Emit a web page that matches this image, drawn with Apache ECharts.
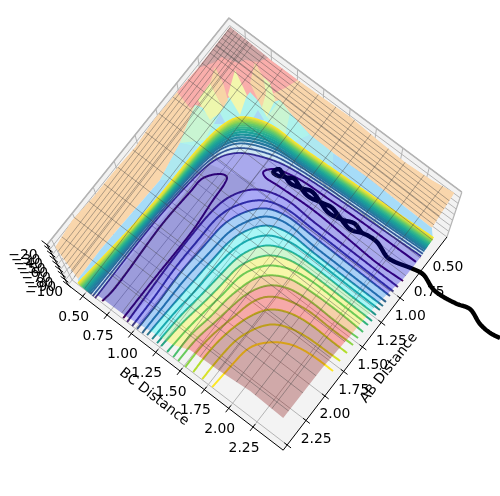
<!DOCTYPE html>
<html><head><meta charset="utf-8">
<style>html,body{margin:0;padding:0;background:#fff}#c{width:500px;height:496px}</style>
<script src="https://cdn.jsdelivr.net/npm/echarts@6/dist/echarts.min.js"></script>
</head><body><div id="c"></div>
<script>
// ---- axis ticks and limits ----
const abTicks = [0.5,0.75,1,1.25,1.5,1.75,2,2.25];
const bcTicks = [0.5,0.75,1,1.25,1.5,1.75,2,2.25];
const zTicks = [-100,-90,-80,-70,-60,-50,-40,-30,-20];
const abRange = [0.128,2.303];
const bcRange = [0.349,2.56];
const zRange = [-100,-20];
// ---- contour lines [AB,BC] ----
const fingerLeft = [[2.385,.931],[2.27,.946],[1.653,.936],[1.35,.955],[1.21,.968],[1.101,1.062],[1.096,1.105],[1.14,1.12],[1.294,1.127],[1.56,1.145],[2.032,1.136],[2.39,1.132]];
const fingerRight = [[.743,2.605],[.747,2.43],[.753,2.116],[.767,1.817],[.787,1.522],[.842,1.34],[.904,1.295],[.925,1.33],[.918,1.436],[.902,1.762],[.913,2.09],[.925,2.38],[.913,2.616]];
const inner4 = [[2.395,1.173],[2.104,1.164],[1.893,1.159],[1.614,1.159],[1.352,1.172],[1.219,1.2],[1.106,1.263],[1.04,1.325],[.998,1.404],[.96,1.563],[.968,1.785],[.97,2.162],[.971,2.613]];
const inner5 = [[2.396,1.221],[2.117,1.22],[1.863,1.211],[1.595,1.22],[1.35,1.236],[1.195,1.304],[1.073,1.416],[1.016,1.588],[1.015,1.822],[1.017,2.198],[1.018,2.607]];
const inner6 = [[2.391,1.264],[2.118,1.268],[1.87,1.263],[1.593,1.283],[1.374,1.302],[1.22,1.37],[1.106,1.47],[1.055,1.636],[1.056,1.853],[1.058,2.23],[1.06,2.607]];
const inner7 = [[2.392,1.312],[2.119,1.316],[1.882,1.32],[1.612,1.345],[1.399,1.368],[1.259,1.428],[1.144,1.518],[1.097,1.678],[1.109,1.894],[1.111,2.271],[1.113,2.61]];
const inner8 = [[2.382,1.35],[2.12,1.363],[1.895,1.377],[1.64,1.395],[1.437,1.416],[1.297,1.477],[1.197,1.559],[1.145,1.725],[1.15,1.926],[1.152,2.303],[1.15,2.611]];
const inner9 = [[2.383,1.398],[2.121,1.411],[1.908,1.433],[1.673,1.448],[1.476,1.475],[1.356,1.522],[1.251,1.61],[1.193,1.772],[1.185,1.953],[1.187,2.33],[1.187,2.611]];
const inner10 = [[2.384,1.445],[2.122,1.459],[1.915,1.486],[1.702,1.509],[1.526,1.531],[1.405,1.579],[1.31,1.655],[1.246,1.813],[1.232,1.99],[1.234,2.366],[1.234,2.61]];
const inner11 = [[2.383,1.483],[2.143,1.504],[1.942,1.536],[1.745,1.561],[1.574,1.578],[1.459,1.631],[1.369,1.7],[1.299,1.853],[1.285,2.03],[1.285,2.36],[1.287,2.614]];
const inner12 = [[2.391,1.545],[2.166,1.559],[1.98,1.584],[1.779,1.615],[1.617,1.631],[1.518,1.676],[1.428,1.746],[1.351,1.894],[1.326,2.062],[1.326,2.344],[1.329,2.609]];
const inner13 = [[2.394,1.604],[2.167,1.607],[1.993,1.64],[1.8,1.66],[1.663,1.694],[1.562,1.729],[1.486,1.791],[1.413,1.923],[1.39,2.112],[1.384,2.389],[1.392,2.611]];
const inner14 = [[2.394,1.651],[2.174,1.659],[2,1.692],[1.829,1.72],[1.681,1.755],[1.545,1.837],[1.472,1.969],[1.449,2.158],[1.454,2.396],[1.45,2.609]];
const inner15 = [[2.398,1.72],[2.182,1.722],[2.012,1.749],[1.864,1.784],[1.731,1.813],[1.61,1.887],[1.539,2.04],[1.513,2.207],[1.517,2.398],[1.513,2.611]];
const inner16 = [[2.391,1.79],[2.186,1.79],[2,1.814],[1.807,1.872],[1.676,1.958],[1.609,2.094],[1.584,2.262],[1.587,2.453],[1.587,2.612]];
const inner17 = [[2.392,1.875],[2.182,1.881],[2.01,1.898],[1.895,1.94],[1.764,2.026],[1.697,2.162],[1.672,2.33],[1.669,2.469],[1.665,2.607]];
const inner18 = [[2.394,1.97],[2.196,1.985],[1.988,2.012],[1.87,2.108],[1.791,2.235],[1.759,2.398],[1.756,2.611]];
const wall18 = [[2.39,.71],[1.6,.79],[1.05,.81],[.835,.84],[.695,.9],[.6,1.1],[.59,1.4],[.526,2.6]];
const wall17 = [[2.39,.717],[1.6,.794],[1.052,.815],[.841,.846],[.703,.907],[.608,1.108],[.596,1.404],[.532,2.6]];
const wall16 = [[2.391,.723],[1.6,.798],[1.054,.82],[.847,.852],[.711,.914],[.615,1.116],[.603,1.408],[.539,2.601]];
const wall15 = [[2.391,.73],[1.6,.801],[1.056,.826],[.852,.858],[.719,.92],[.623,1.124],[.609,1.412],[.545,2.601]];
const wall14 = [[2.392,.738],[1.6,.806],[1.059,.832],[.86,.866],[.729,.929],[.632,1.134],[.617,1.417],[.553,2.602]];
const wall13 = [[2.392,.746],[1.6,.811],[1.061,.839],[.867,.873],[.739,.937],[.642,1.144],[.625,1.422],[.561,2.602]];
const wall12 = [[2.393,.756],[1.6,.817],[1.064,.846],[.876,.882],[.751,.948],[.653,1.156],[.635,1.428],[.571,2.603]];
const wall11 = [[2.393,.766],[1.6,.822],[1.067,.854],[.884,.891],[.763,.958],[.665,1.168],[.644,1.434],[.58,2.603]];
const wall10 = [[2.394,.778],[1.6,.829],[1.07,.863],[.894,.902],[.777,.97],[.678,1.182],[.656,1.441],[.592,2.604]];
const wall9 = [[2.395,.789],[1.6,.836],[1.074,.872],[.905,.912],[.791,.982],[.691,1.196],[.667,1.448],[.603,2.605]];
const wall8 = [[2.396,.802],[1.6,.843],[1.078,.883],[.916,.924],[.807,.995],[.706,1.212],[.68,1.456],[.616,2.606]];
const wall7 = [[2.396,.816],[1.6,.851],[1.082,.893],[.928,.936],[.823,1.009],[.722,1.228],[.692,1.464],[.628,2.606]];
const wall6 = [[2.397,.83],[1.6,.859],[1.087,.905],[.941,.95],[.841,1.024],[.739,1.246],[.707,1.473],[.643,2.607]];
const wall5 = [[2.399,.852],[1.6,.872],[1.093,.922],[.96,.969],[.867,1.046],[.763,1.272],[.728,1.486],[.664,2.609]];
const wall4 = [[2.4,.875],[1.6,.885],[1.1,.94],[.98,.99],[.895,1.07],[.79,1.3],[.75,1.5],[.686,2.61]];
// ---- trajectory [AB,BC] ----
const trajectory = [[.811,3.447],[.826,3.365],[.819,3.265],[.776,3.138],[.805,3.038],[.826,2.914],[.826,2.829],[.783,2.702],[.798,2.62],[.841,2.466],[.845,2.412],[.802,2.285],[.806,2.194],[.816,2.156],[.794,2.069],[.826,1.985],[.849,1.864],[.826,1.778],[.799,1.67],[.828,1.592],[.849,1.508],[.835,1.448],[.86,1.401],[.86,1.354],[.815,1.375],[.835,1.448],[.804,1.505],[.826,1.581],[.844,1.673],[.824,1.767],[.803,1.861],[.827,1.958],[.849,2.071],[.816,2.156]];
// ---- surface regions [AB,BC] ----
const surfaceEdge = [[.203,.442],[.587,.439],[.823,.424],[1.074,.412],[1.334,.426],[1.58,.41],[1.816,.405],[2.045,.386],[2.28,.408],[2.396,.732],[2.37,.9],[2.366,1.15],[2.342,1.366],[2.323,1.549],[2.276,1.672],[2.267,1.928],[2.246,2.212],[2.256,2.53],[1.787,2.533],[1.474,2.552],[1.165,2.566],[.902,2.607],[.65,2.619],[.538,2.607],[.472,2.546],[.164,2.52],[.191,2.328],[.207,2.087],[.199,1.828],[.187,1.575],[.198,1.329],[.208,1.083],[.213,.844],[.207,.632]];
const orangeEdge = [[2.364,.689],[2.095,.687],[1.415,.723],[1.108,.673],[.897,.632],[.437,1.186],[.476,1.404],[.478,1.622],[.466,1.931],[.47,2.244],[.472,2.546]];
const pinkTop = [[.203,.442],[.823,.424],[.858,.573],[.721,.655],[.66,.796],[.588,.927],[.422,.986],[.313,1.044],[.208,1.083]];
const brownTop = [[.203,.442],[.587,.439],[.491,.505],[.415,.531],[.378,.652],[.329,.68],[.282,.765],[.199,.814]];
const cyanTop = [[1.108,.673],[.818,.589],[.78,.7],[.603,.761],[.615,.855],[.494,.855],[.516,.985],[.406,1.068],[.437,1.186],[.476,1.404],[.593,1.336],[.633,.99],[.835,.837],[1.042,.81]];
const cyanLeft = [[1.415,.723],[1.108,.673],[1.042,.81],[1.35,.81]];
const cyanRight = [[.476,1.404],[.478,1.622],[.578,1.699],[.593,1.336]];
const greenLeft = [[1.108,.673],[.818,.589],[.816,.776],[.978,.807]];
const greenRight = [[.437,1.186],[.406,1.068],[.564,1.068],[.589,1.257]];
const lensYellowA = [[.621,.578],[.775,.584],[.838,.746],[.752,.773],[.71,.768]];
const lensOrangeA = [[.505,.535],[.621,.578],[.71,.768],[.64,.761],[.563,.655]];
const lensYellowB = [[.433,.667],[.611,.738],[.674,.9],[.526,.85]];
const lensOrangeC = [[.296,.748],[.441,.814],[.534,.998],[.428,.953],[.348,.864]];
const lensYellowC = [[.348,.864],[.428,.953],[.534,.998],[.564,1.068],[.429,1.039],[.351,.932]];
const blueLeft = [[.752,.773],[.844,.788],[.79,.858]];
const blueRight = [[.564,.983],[.649,.994],[.595,1.065]];
const valleyLeft = [[2.4,.875],[1.1,.94],[1.0,1.3],[2.4,1.17]];
// ---- surface mesh positions ----
const meshAB = [.37,.54,.7,.87,1.03,1.2,1.36,1.53,1.69,1.86,2.02,2.19];
const meshBC = [.61,.77,.94,1.1,1.27,1.43,1.6,1.76,1.93,2.09,2.26,2.42];
const wallAB = [.235,.27,.305,.34,.375,.41,.445];
const wallBC = [.445,.48,.515,.55,.585,.62,.655];

// ---- 3D view ----
const planeZ = -20;
function project(a,b,z,box){
  const s = 1+.095*(z+100)/80;
  let fx = 218.5-75.3*(a-.5)+97.3*(b-.5), fy = 119.6+98*(a-.5)+74.7*(b-.5);
  if(box){ const k=(a-abRange[1])*(b-bcRange[1]); fx+=.5*k; fy+=1.27*k; }
  return [290+(fx-290)*s, 709+(fy-709)*s];
}
const onPlane = p => project(p[0],p[1],planeZ);
const onBox = (a,b,z) => project(a,b,z,true);
// smooth drawing path through the read points: centripetal spline, even steps, light rounding
function dense(pts,k){
  if(k===undefined) k=7;
  const raw=[];
  const dist=(p,q)=>Math.sqrt(Math.hypot(p[0]-q[0],p[1]-q[1]))||1e-4;
  const mix=(p,q,t0,t1,t)=>[0,1].map(d=>(t1-t)/(t1-t0)*p[d]+(t-t0)/(t1-t0)*q[d]);
  for(let i=0;i<pts.length-1;i++){
    const p1=pts[i],p2=pts[i+1];
    const p0=i>0?pts[i-1]:[2*p1[0]-p2[0],2*p1[1]-p2[1]];
    const p3=i<pts.length-2?pts[i+2]:[2*p2[0]-p1[0],2*p2[1]-p1[1]];
    const t0=0,t1=t0+dist(p0,p1),t2=t1+dist(p1,p2),t3=t2+dist(p2,p3);
    const n=Math.max(2,Math.ceil(Math.hypot(p1[0]-p2[0],p1[1]-p2[1])/.01));
    for(let j=0;j<n;j++){
      const t=t1+(t2-t1)*j/n;
      const a1=mix(p0,p1,t0,t1,t),a2=mix(p1,p2,t1,t2,t),a3=mix(p2,p3,t2,t3,t);
      const b1=mix(a1,a2,t0,t2,t),b2=mix(a2,a3,t1,t3,t);
      raw.push(mix(b1,b2,t1,t2,t));
    }
  }
  raw.push(pts[pts.length-1]);
  if(!k) return raw;
  return raw.map((p,i)=>{
    const w=Math.min(k,i,raw.length-1-i); let x=0,y=0;
    for(let j=i-w;j<=i+w;j++){x+=raw[j][0];y+=raw[j][1];}
    return [x/(2*w+1),y/(2*w+1)];
  });
}
const viridisStops=[[68,1,84],[72,40,120],[62,74,137],[49,104,142],[38,130,142],[31,158,137],[53,183,121],[109,205,89],[180,222,44],[253,231,37]];
function viridis(t){
  const f=Math.min(t,1)*(viridisStops.length-1),i=Math.min(Math.floor(f),viridisStops.length-2),r=f-i;
  const c=[0,1,2].map(d=>Math.round(viridisStops[i][d]*(1-r)+viridisStops[i+1][d]*r));
  return 'rgb('+c.join(',')+')';
}
const innerLines=[inner4,inner5,inner6,inner7,inner8,inner9,inner10,inner11,inner12,inner13,inner14,inner15,inner16,inner17,inner18];
const wallLines=[wall4,wall5,wall6,wall7,wall8,wall9,wall10,wall11,wall12,wall13,wall14,wall15,wall16,wall17,wall18];
const strip=(a,b)=>dense(a).concat(dense(b).reverse());
const bands=[
 [strip(wall18,wall4),'rgba(0,170,255,.15)'],
 [strip(wall4,inner4),'rgba(0,0,225,.3)'],
 [valleyLeft,'rgba(30,30,40,.09)'],
 [strip(inner4,inner6),'rgba(0,0,255,.3)'],
 [strip(inner6,inner8),'rgba(0,128,255,.3)'],
 [strip(inner8,inner10),'rgba(0,255,255,.3)'],
 [strip(inner10,inner11),'rgba(128,255,128,.3)'],
 [strip(inner11,inner13),'rgba(255,255,0,.3)'],
 [strip(inner13,inner14),'rgba(255,128,0,.3)'],
 [strip(inner14,inner16),'rgba(255,0,0,.3)'],
 [dense(inner16).concat([[3,3]]),'rgba(128,0,0,.3)']
];
const outerRegions=[
 [surfaceEdge.slice(25).concat([surfaceEdge[0]],surfaceEdge.slice(1,9)).concat(orangeEdge),'#f9d6ac'],
 [orangeEdge.concat(dense(wall18).reverse()),'#a6dcf8'],
 [cyanLeft,'#aee8f0'],
 [cyanRight,'#aee8f0'],
 [pinkTop,'#f9aeab'],
 [brownTop,'#cfa6a6'],
 [cyanTop,'#aef3ec'],
 [greenLeft,'#c9f5d2'],
 [greenRight,'#c9f5d2'],
 [lensYellowA,'#eef7ad'],
 [lensOrangeA,'#f7d5a6'],
 [lensYellowB,'#f3f7ad'],
 [lensOrangeC,'#f7d5a6'],
 [lensYellowC,'#e6f7b4'],
 [blueLeft,'#a9d8f5'],
 [blueRight,'#a9d8f5']
];

function layer(z,build){
  return {type:'custom',coordinateSystem:'cartesian2d',data:[[0,0]],z:z,silent:true,clip:false,animation:false,
    renderItem:(params,api)=>({type:'group',children:build(p=>api.coord(p))})};
}
const paneFill='#f2f2f2', frame='#b4b4b4';
const poly=(pts,fill,coord,extra)=>Object.assign({type:'polygon',shape:{points:pts.map(coord)},style:{fill:fill,stroke:null}},extra||{});
const line=(pts,color,w,coord)=>({type:'polyline',shape:{points:pts.map(coord)},style:{fill:null,stroke:color,lineWidth:w,lineJoin:'round',lineCap:'butt'}});
const text=(s,pos,coord,rot)=>{const c=coord(pos);return {type:'text',x:c[0],y:c[1],rotation:rot||0,style:{text:s,x:0,y:0,fill:'#000',font:'13.9px "DejaVu Sans"',align:'center',verticalAlign:'middle',textAlign:'center',textVerticalAlign:'middle'}};};
const [a0,a1]=abRange,[b0,b1]=bcRange,[z0,z1]=zRange;

const series=[
 layer(1,c=>{ // panes and grid
  const out=[
   poly([onBox(a1,b0,z0),onBox(a1,b1,z0),onBox(a0,b1,z0),onBox(a0,b0,z0)],'#f3f3f3',c),
   poly([onBox(a1,b0,z0),onBox(a1,b0,z1),onBox(a0,b0,z1),onBox(a0,b0,z0)],paneFill,c),
   poly([onBox(a0,b1,z0),onBox(a0,b1,z1),onBox(a0,b0,z1),onBox(a0,b0,z0)],paneFill,c)];
  abTicks.forEach(a=>{out.push(line([onBox(a,b1,z0),onBox(a,b0,z0),onBox(a,b0,z1)],frame,1,c));});
  bcTicks.forEach(b=>{out.push(line([onBox(a1,b,z0),onBox(a0,b,z0),onBox(a0,b,z1)],frame,1,c));});
  zTicks.forEach(z=>{out.push(line([onBox(a1,b0,z),onBox(a0,b0,z),onBox(a0,b1,z)],frame,1,c));});
  out.push(line([onBox(a1,b0,z1),onBox(a0,b0,z1),onBox(a0,b1,z1)],frame,1.6,c));
  out.push(line([onBox(a0,b1,z1),onBox(a0,b1,z0)],frame,1.2,c));
  return out;
 }),
 layer(2,c=>outerRegions.map(r=>poly(r[0].map(onPlane),r[1],c,{clipPath:{type:'polygon',shape:{points:surfaceEdge.map(onPlane).map(c)}}}))),
 layer(3,c=>{
  const out=[];
  out.push(line(dense(fingerLeft,1).map(onPlane),viridis(0),2,c));
  out.push(line(dense(fingerRight,1).map(onPlane),viridis(0),2,c));
  innerLines.forEach((l,i)=>out.push(line(dense(l).map(onPlane),viridis(Math.pow((i+1)/15,.85)),2,c)));
  wallLines.forEach((l,i)=>out.push(line(dense(l).map(onPlane),viridis(Math.pow((i+1)/15,.75)),i<3?1.8:2.4,c)));
  return out;
 }),
 layer(4,c=>[line(dense(trajectory,1).map(onPlane),'#000',4.4,c)]),
 layer(5,c=>bands.map(r=>poly(r[0].map(onPlane),r[1],c,{clipPath:{type:'polygon',shape:{points:surfaceEdge.map(onPlane).map(c)}}}))),
 layer(6,c=>{
  const clip={type:'polygon',shape:{points:surfaceEdge.map(onPlane).map(c)}};
  const out=[];
  const col='rgba(70,70,70,.42)';
  meshAB.concat(wallAB).forEach(a=>{out.push(Object.assign(line([onPlane([a,.3]),onPlane([a,2.8])],col,1,c),{clipPath:clip}));});
  meshBC.concat(wallBC).forEach(b=>{out.push(Object.assign(line([onPlane([.1,b]),onPlane([2.6,b])],col,1,c),{clipPath:clip}));});
  return out;
 }),
 layer(7,c=>{ // axes, ticks, labels
  const out=[
   line([onBox(a1,b0,z0),onBox(a1,b1,z0)],'#000',1,c),
   line([onBox(a0,b1,z0),onBox(a1,b1,z0)],'#000',1,c),
   line([onBox(a1,b0,z0),onBox(a1,b0,z1)],'#000',1,c)];
  bcTicks.forEach(b=>{
   out.push(line([onBox(a1-.03,b,z0),onBox(a1+.04,b,z0)],'#000',1,c));
   const p=onBox(a1,b,z0);
   out.push(text(b.toFixed(2),[p[0]-9,p[1]+21],c));
  });
  abTicks.forEach(a=>{
   out.push(line([onBox(a,b1-.03,z0),onBox(a,b1+.04,z0)],'#000',1,c));
   const p=onBox(a,b1,z0);
   out.push(text(a.toFixed(2),[p[0]+29,p[1]-6],c));
  });
  zTicks.forEach(z=>{
   out.push(line([onBox(a1,b0-.05,z),onBox(a1,b0+.03,z)],'#000',1,c));
   const p=onBox(a1,b0,z);
   out.push(text('\u2212'+Math.abs(z),[p[0]-24,p[1]+7+4*(z+100)/80],c));
  });
  out.push(text('BC Distance',[154,397],c,-38*Math.PI/180));
  out.push(text('AB Distance',[389,368],c,52*Math.PI/180));
  return out;
 })
];

const chart=echarts.init(document.getElementById('c'),null,{renderer:'canvas'});
chart.setOption({
  animation:false,
  grid:{left:0,right:0,top:0,bottom:0},
  xAxis:{type:'value',min:0,max:500,show:false},
  yAxis:{type:'value',min:0,max:496,inverse:true,show:false},
  series:series
});
</script></body></html>
